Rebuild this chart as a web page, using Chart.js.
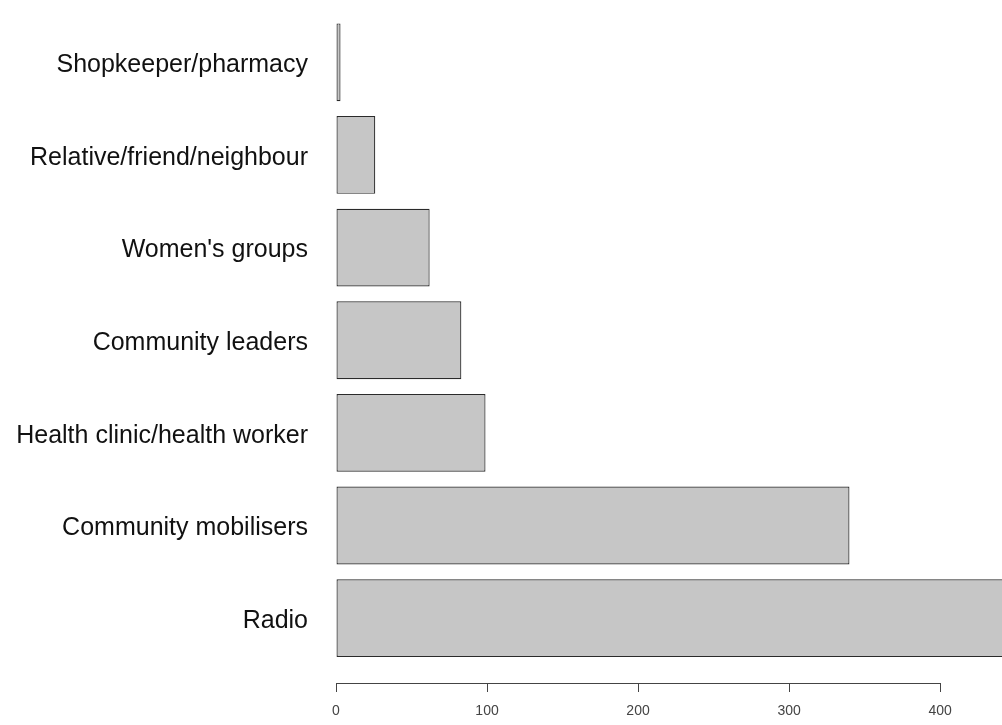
<!DOCTYPE html>
<html>
<head>
<meta charset="utf-8">
<script src="https://cdn.jsdelivr.net/npm/chart.js@4.4.0/dist/chart.umd.min.js"></script>
<style>
  html, body { margin: 0; padding: 0; background: #fff; }
  #wrap { width: 1002px; height: 725px; position: relative; }
</style>
</head>
<body>
<div id="wrap"><canvas id="chart"></canvas></div>
<script>
// categories, top to bottom
const categories = [
  "Shopkeeper/pharmacy",
  "Relative/friend/neighbour",
  "Women's groups",
  "Community leaders",
  "Health clinic/health worker",
  "Community mobilisers",
  "Radio"
];
// counts (Radio runs off the right edge in the original)
const counts = [3, 26, 62, 83, 99, 340, 460];
const xTicks = [0, 100, 200, 300, 400];

// R-style axis line: only spans first to last tick
const axisLine = {
  id: 'axisLine',
  afterDraw(chart) {
    const x = chart.scales.x;
    const ctx = chart.ctx;
    const y = chart.chartArea.bottom;
    ctx.save();
    ctx.strokeStyle = '#444';
    ctx.lineWidth = 1;
    ctx.beginPath();
    ctx.moveTo(x.getPixelForValue(xTicks[0]), y + 0.5);
    ctx.lineTo(x.getPixelForValue(xTicks[xTicks.length - 1]), y + 0.5);
    ctx.stroke();
    ctx.restore();
  }
};

const ctx = document.getElementById('chart').getContext('2d');
new Chart(ctx, {
  type: 'bar',
  data: {
    datasets: [{
      data: counts.map((v, i) => ({ x: v, y: i })),
      backgroundColor: '#c6c6c6',
      borderColor: '#2a2a2a',
      borderWidth: 1.2,
      borderSkipped: false,
      categoryPercentage: 1,
      barPercentage: 0.84
    }]
  },
  plugins: [axisLine],
  options: {
    indexAxis: 'y',
    responsive: true,
    maintainAspectRatio: false,
    animation: false,
    layout: { padding: { top: 16, right: 0, bottom: 0, left: 0 } },
    plugins: { legend: { display: false }, tooltip: { enabled: false } },
    scales: {
      y: {
        type: 'linear',
        reverse: true,
        offset: false,
        min: -0.5,
        max: 6.7,
        afterBuildTicks: s => { s.ticks = categories.map((_, i) => ({ value: i })); },
        afterFit: s => {
          s.width = 336;
          s.paddingTop = 0;
          s.paddingBottom = 0;
        },
        grid: { display: false, drawTicks: false, offset: false },
        border: { display: false },
        ticks: {
          padding: 28,
          labelOffset: 3,
          color: '#111',
          font: { family: 'Liberation Sans', size: 25 },
          callback: v => categories[v] ?? ''
        }
      },
      x: {
        type: 'linear',
        min: 0,
        max: 441,
        afterBuildTicks: s => { s.ticks = xTicks.map(v => ({ value: v })); },
        afterFit: s => { s.height = 42; },
        grid: { drawOnChartArea: false, drawTicks: true, tickLength: 9, color: '#444' },
        border: { display: false },
        ticks: {
          padding: 11,
          color: '#444',
          maxRotation: 0,
          font: { family: 'Liberation Sans', size: 14 }
        }
      }
    }
  }
});
</script>
</body>
</html>
